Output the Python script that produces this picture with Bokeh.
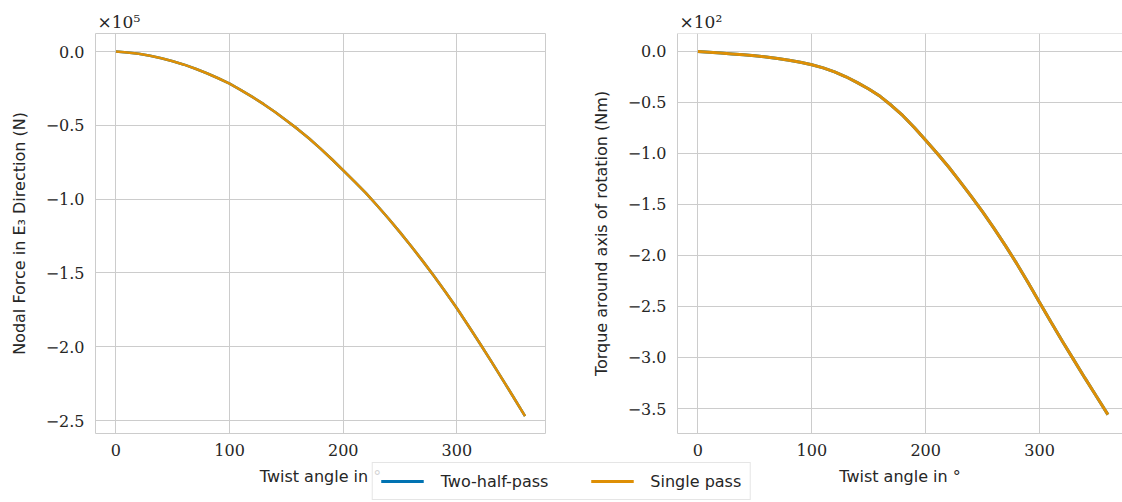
from bokeh.plotting import figure
from bokeh.layouts import row, column
from bokeh.models import (Range1d, SingleIntervalTicker, CustomJSTickFormatter,
                          Span, Legend, LegendItem)
from bokeh.embed import file_html
from bokeh.resources import INLINE

# ---------------- data ----------------
angle_deg = [0, 10, 20, 30, 40, 50, 60, 70, 80, 90, 100, 110, 120, 130, 140,
             150, 160, 170, 180, 190, 200, 210, 220, 230, 240, 250, 260, 270,
             280, 290, 300, 310, 320, 330, 340, 350, 360]

# Nodal force in E3 direction (N)
force_two_half = [0, -700, -1500, -2900, -4500, -6600, -8900, -11700, -14700,
                  -18100, -21800, -26100, -30800, -35700, -41000, -46700, -52600,
                  -59000, -65800, -73000, -80500, -88200, -96000, -104500,
                  -113300, -122500, -132100, -142000, -152300, -163000, -174000,
                  -185600, -197500, -209600, -222000, -234400, -247000]
force_single = [0, -700, -1500, -2900, -4500, -6600, -8900, -11700, -14700,
                -18100, -21800, -26100, -30800, -35700, -41000, -46700, -52600,
                -59000, -65800, -73000, -80500, -88200, -96000, -104500,
                -113300, -122500, -132100, -142000, -152300, -163000, -174000,
                -185600, -197500, -209600, -222000, -234400, -247000]

# Torque around axis of rotation (Nm)
torque_two_half = [0, -0.7, -1.5, -2.4, -3.3, -4.3, -5.5, -7.0, -8.7, -10.6,
                   -13.0, -16.1, -20.0, -24.8, -30.5, -36.8, -44.0, -53.0, -63.0,
                   -74.5, -87.0, -99.8, -113.0, -127.3, -142.0, -157.3, -173.5,
                   -190.3, -208.0, -226.8, -246.0, -265.2, -284.0, -302.3,
                   -320.5, -338.3, -356.0]
torque_single = [0, -0.7, -1.5, -2.4, -3.3, -4.3, -5.5, -7.0, -8.7, -10.6,
                 -13.0, -16.1, -20.0, -24.8, -30.5, -36.8, -44.0, -53.0, -63.0,
                 -74.5, -87.0, -99.8, -113.0, -127.3, -142.0, -157.3, -173.5,
                 -190.3, -208.0, -226.8, -246.0, -265.2, -284.0, -302.3,
                 -320.5, -338.3, -356.0]

series_labels = ["Two-half-pass", "Single pass"]
x_label = "Twist angle in °"
force_label = "Nodal Force in E₃ Direction (N)"
torque_label = "Torque around axis of rotation (Nm)"
force_exp_label = "×10⁵"
torque_exp_label = "×10²"

# ---------------- style ----------------
BLUE = "#0173b2"
ORANGE = "#de8f05"
GRID = "#cccccc"
TEXT = "#262626"
SERIF = "DejaVu Serif"
SANS = "DejaVu Sans"


def make_fmt(scale):
    return CustomJSTickFormatter(args=dict(s=scale), code="""
        const v = tick / s;
        let t = (Math.abs(v) < 1e-9) ? '0.0' : v.toFixed(1);
        return t.replace('-', '\\u2212');
    """)


def style(p, ylabel, yscale, ystep, yr, exp_text, outline=True):
    p.xaxis.ticker = SingleIntervalTicker(interval=100, num_minor_ticks=0)
    p.yaxis.ticker = SingleIntervalTicker(interval=ystep, num_minor_ticks=0)
    p.yaxis.formatter = make_fmt(yscale)
    for ax in (p.xaxis, p.yaxis):
        ax.major_tick_in = 0
        ax.major_tick_out = 0
        ax.minor_tick_in = 0
        ax.minor_tick_out = 0
        ax.major_label_text_font = SERIF
        ax.major_label_text_font_size = "16px"
        ax.major_label_text_color = TEXT
        ax.axis_label_text_font = SANS
        ax.axis_label_text_font_size = "16px"
        ax.axis_label_text_font_style = "normal"
        ax.axis_label_text_color = TEXT
        ax.axis_line_color = None if outline else GRID
    p.xaxis.axis_label = x_label
    p.yaxis.axis_label = ylabel
    p.xaxis.major_label_standoff = 10
    p.xaxis.axis_label_standoff = 8
    p.yaxis.major_label_standoff = 11
    p.yaxis.axis_label_standoff = 14
    p.grid.grid_line_color = GRID
    p.grid.grid_line_width = 1
    p.background_fill_color = "white"
    p.border_fill_color = "white"
    if outline:
        p.outline_line_color = GRID
        p.outline_line_width = 1
    else:
        p.outline_line_color = None
        p.add_layout(Span(location=yr[1], dimension="width",
                          line_color=GRID, line_width=1))
    p.title.text = exp_text
    p.title.align = "left"
    p.title.offset = 2
    p.title.standoff = 3
    p.title.text_font = SERIF
    p.title.text_font_size = "17px"
    p.title.text_font_style = "normal"
    p.title.text_color = TEXT


# left panel
xr1 = (-18.0, 378.0)
yr1 = (-258800.0, 12200.0)
p1 = figure(width=575, height=502, x_range=Range1d(*xr1), y_range=Range1d(*yr1),
            output_backend="svg", toolbar_location=None,
            min_border_left=95, min_border_right=30,
            min_border_top=33, min_border_bottom=69)
p1.line(angle_deg, force_two_half, line_color=BLUE, line_width=2.6)
p1.line(angle_deg, force_single, line_color=ORANGE, line_width=2.6)
style(p1, force_label, 1e5, 50000, yr1, force_exp_label, outline=True)

# right panel
xr2 = (-17.9, 372.8)
yr2 = (-374.5, 17.6)
p2 = figure(width=547, height=502, x_range=Range1d(*xr2), y_range=Range1d(*yr2),
            output_backend="svg", toolbar_location=None,
            min_border_left=102, min_border_right=0,
            min_border_top=33, min_border_bottom=69)
p2.line(angle_deg, torque_two_half, line_color=BLUE, line_width=3)
p2.line(angle_deg, torque_single, line_color=ORANGE, line_width=3)
style(p2, torque_label, 1e2, 50, yr2, torque_exp_label, outline=False)

# legend strip, overlapping the bottom of the panels (its data lies off view,
# only the legend swatches are seen)
pl = figure(width=1122, height=40, output_backend="svg", toolbar_location=None,
            x_range=Range1d(1e6, 1e6 + 1), y_range=Range1d(1e9, 1e9 + 1),
            x_axis_location=None, y_axis_location=None, min_border=0,
            margin=(-40, 0, 0, 0))
pl.border_fill_color = None
pl.background_fill_color = None
pl.outline_line_color = None
pl.grid.visible = False
r1 = pl.line(angle_deg, force_two_half, line_color=BLUE, line_width=3)
r2 = pl.line(angle_deg, force_single, line_color=ORANGE, line_width=3)
legend = Legend(items=[LegendItem(label=series_labels[0], renderers=[r1]),
                       LegendItem(label=series_labels[1], renderers=[r2])],
                orientation="horizontal", location="bottom_center",
                label_text_font=SANS, label_text_font_size="16px",
                label_text_color=TEXT, glyph_width=43, glyph_height=20,
                label_standoff=17, spacing=42, padding=8, margin=2,
                border_line_color=GRID, border_line_width=1,
                background_fill_color="white", background_fill_alpha=0.8)
pl.add_layout(legend)

layout = column(row(p1, p2), pl)

with open("out.html", "w", encoding="utf-8") as f:
    f.write(file_html(layout, INLINE))
